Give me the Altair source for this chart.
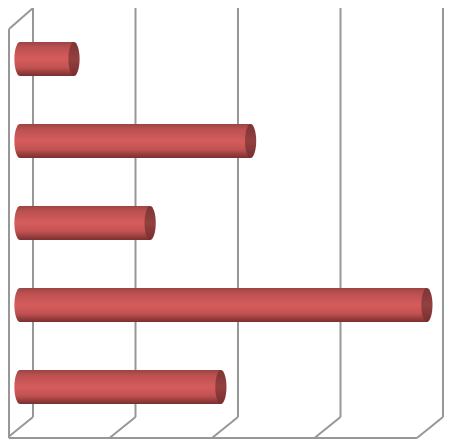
import altair as alt
import pandas as pd

# Bar values, top to bottom, read against the back-wall gridlines
values = [0.527, 2.25, 1.27, 3.97, 1.96]
positions = [5, 4, 3, 2, 1]
grid_values = [0, 1, 2, 3, 4]

# Depth of the fake 3D frame, in data units
BAR_DEPTH = -0.127
FRONT_DEPTH = -0.254
WALL_LEFT = -0.234
Y_BACK_TOP, Y_FRONT_TOP, Y_BACK_FLOOR, Y_FRONT_FLOOR = 5.622, 5.366, 0.634, 0.378
CAP = "M0,-1 C0.18,-1 0.33,-0.55 0.33,0 C0.33,0.55 0.18,1 0,1 C-0.18,1 -0.33,0.55 -0.33,0 C-0.33,-0.55 -0.18,-1 0,-1 Z"

GRID = "#979797"
BODY = alt.Gradient(gradient="linear", x1=0, y1=0, x2=0, y2=1, stops=[
    alt.GradientStop(offset=0, color="#9a4444"),
    alt.GradientStop(offset=0.15, color="#bb5050"),
    alt.GradientStop(offset=0.5, color="#d65c5c"),
    alt.GradientStop(offset=0.75, color="#c25252"),
    alt.GradientStop(offset=0.9, color="#963c3c"),
    alt.GradientStop(offset=1, color="#7a3030"),
])
CAP_FILL = alt.Gradient(gradient="linear", x1=0, y1=0, x2=0, y2=1, stops=[
    alt.GradientStop(offset=0, color="#7e3434"),
    alt.GradientStop(offset=0.5, color="#934040"),
    alt.GradientStop(offset=1, color="#7a2e2e"),
])

bars = pd.DataFrame({"v": values, "p": positions})
bars["start"] = BAR_DEPTH
bars["end"] = bars["v"] + BAR_DEPTH

segments = []
for g in grid_values:
    segments.append((g, Y_BACK_TOP, g, Y_BACK_FLOOR))
    segments.append((g, Y_BACK_FLOOR, g + FRONT_DEPTH, Y_FRONT_FLOOR))
segments.append((WALL_LEFT, Y_FRONT_TOP, WALL_LEFT, Y_FRONT_FLOOR))
segments.append((WALL_LEFT, Y_FRONT_TOP, 0, Y_BACK_TOP))
segments.append((WALL_LEFT, Y_FRONT_FLOOR, grid_values[-1] + FRONT_DEPTH, Y_FRONT_FLOOR))
frame = pd.DataFrame(segments, columns=["x", "y", "x2", "y2"])

xs = alt.Scale(domain=[-0.2439, 4.0098], nice=False, zero=False, padding=0)
ys = alt.Scale(domain=[0.366, 5.622], nice=False, zero=False, padding=0)

lines = alt.Chart(frame).mark_rule(color=GRID, strokeWidth=2).encode(
    x=alt.X("x:Q", scale=xs, axis=None),
    x2="x2:Q",
    y=alt.Y("y:Q", scale=ys, axis=None),
    y2="y2:Q",
)

base = alt.Chart(bars)
left_cap = base.mark_point(shape=CAP, size=1156, filled=True, fill=BODY, opacity=1, strokeWidth=0).encode(
    x=alt.X("start:Q", scale=xs, axis=None), y=alt.Y("p:Q", scale=ys, axis=None))
body = base.mark_bar(orient="horizontal", size=34, fill=BODY).encode(
    x=alt.X("start:Q", scale=xs, axis=None), x2="end:Q", y=alt.Y("p:Q", scale=ys, axis=None))
right_cap = base.mark_point(shape=CAP, size=1156, filled=True, fill=CAP_FILL, opacity=1, strokeWidth=0).encode(
    x=alt.X("end:Q", scale=xs, axis=None), y=alt.Y("p:Q", scale=ys, axis=None))

chart = (lines + left_cap + body + right_cap).properties(
    width=436, height=431, padding=0, background="#ffffff",
    autosize=alt.AutoSizeParams(type="none", contains="padding"),
).configure_view(stroke=None)

chart.save("out.html", embed_options={"renderer": "svg", "actions": False})
